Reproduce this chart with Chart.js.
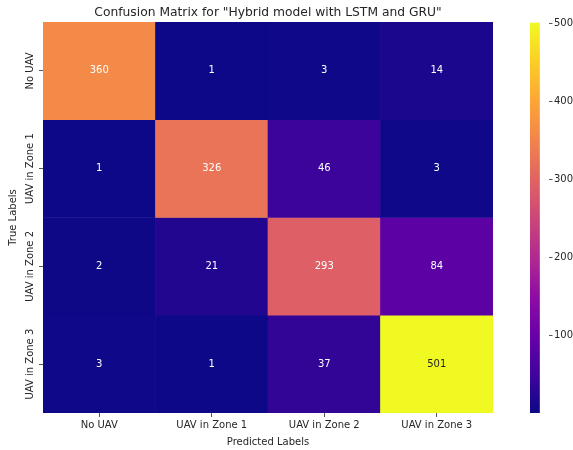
<!DOCTYPE html>
<html><head><meta charset="utf-8">
<script src="https://cdn.jsdelivr.net/npm/chart.js@4.4.0/dist/chart.umd.min.js"></script>
<style>
html,body{margin:0;padding:0;background:#fff;overflow:hidden}
#wrap{position:relative;width:573px;height:450px}
</style></head><body>
<div id="wrap">
<canvas id="main" width="573" height="450" style="position:absolute;left:0;top:0"></canvas>
<canvas id="cbar" width="73" height="450" style="position:absolute;left:500px;top:0"></canvas>
</div>
<script>
// ---- data ----
const predictedLabels = ["No UAV", "UAV in Zone 1", "UAV in Zone 2", "UAV in Zone 3"];
const trueLabels = ["No UAV", "UAV in Zone 1", "UAV in Zone 2", "UAV in Zone 3"];
const rowNoUAV = [360, 1, 3, 14];
const rowZone1 = [1, 326, 46, 3];
const rowZone2 = [2, 21, 293, 84];
const rowZone3 = [3, 1, 37, 501];
const colorbarTicks = [100, 200, 300, 400, 500];
const colorMin = 1, colorMax = 501;
const chartTitle = 'Confusion Matrix for "Hybrid model with LSTM and GRU"';

// ---- style ----
const FONT = '"DejaVu Sans", sans-serif';
const TXT = '#262626';
const PLASMA = [[13,8,135],[65,4,157],[106,0,168],[143,13,164],[177,42,144],[204,71,120],[225,100,98],[242,132,75],[252,166,54],[252,206,37],[240,249,33]];
function plasmaRGB(t){
  t = Math.max(0, Math.min(1, t));
  const p = t * 10, i = Math.min(9, Math.floor(p)), f = p - i;
  const a = PLASMA[i], b = PLASMA[i+1];
  return a.map((v,k)=>Math.round(v + (b[k]-v)*f));
}
function plasma(t){ const c = plasmaRGB(t); return `rgb(${c[0]},${c[1]},${c[2]})`; }
function lum(c){
  const l = c.map(v=>{v/=255; return v<=0.03928? v/12.92 : Math.pow((v+0.055)/1.055,2.4);});
  return 0.2126*l[0]+0.7152*l[1]+0.0722*l[2];
}
const norm = v => (v - colorMin) / (colorMax - colorMin);

const matrix = [rowNoUAV, rowZone1, rowZone2, rowZone3];
const datasets = matrix.map((row, i) => ({
  label: trueLabels[i],
  data: row.map(() => [i, i + 1]),
  values: row,
  backgroundColor: row.map(v => plasma(norm(v))),
  borderWidth: 0,
  barPercentage: 1,
  categoryPercentage: 1,
  grouped: false
}));

const annotate = {
  id: 'annotate',
  afterDatasetsDraw(chart){
    const ctx = chart.ctx, xs = chart.scales.x, ys = chart.scales.y;
    ctx.save();
    ctx.font = '10px ' + FONT;
    ctx.textAlign = 'center';
    ctx.textBaseline = 'middle';
    chart.data.datasets.forEach((ds, i) => {
      ds.values.forEach((v, j) => {
        const c = plasmaRGB(norm(v));
        ctx.fillStyle = lum(c) > 0.408 ? TXT : '#ffffff';
        ctx.fillText(String(v), xs.getPixelForValue(j), ys.getPixelForValue(i + 0.5));
      });
    });
    ctx.restore();
  },
  afterDraw(chart){
    const ctx = chart.ctx, ys = chart.scales.y;
    ctx.save();
    ctx.font = '10px ' + FONT;
    ctx.fillStyle = TXT;
    ctx.textAlign = 'center';
    ctx.textBaseline = 'middle';
    const x = ys.right - 4 - 2 - 7;
    ys.ticks.forEach((t, i) => {
      const y = ys.getPixelForValue(t.value);
      ctx.save();
      ctx.translate(x, y);
      ctx.rotate(-Math.PI / 2);
      ctx.fillText(trueLabels[i], 0, 0);
      ctx.restore();
    });
    ctx.restore();
  }
};

new Chart(document.getElementById('main'), {
  type: 'bar',
  data: { labels: predictedLabels, datasets },
  plugins: [annotate],
  options: {
    responsive: false,
    animation: false,
    layout: { padding: { left: 0, right: 80, top: 0, bottom: 0 } },
    plugins: {
      legend: { display: false },
      tooltip: { enabled: false },
      title: {
        display: true, text: chartTitle, color: TXT, fullSize: false,
        font: { family: FONT, size: 12.3, weight: 'normal', lineHeight: 1.2 },
        padding: { top: 5, bottom: 2.24 }
      }
    },
    scales: {
      x: {
        type: 'category',
        offset: true,
        grid: { offset: false, drawOnChartArea: false, drawTicks: true, tickLength: 4, color: '#555' },
        border: { display: false },
        ticks: { color: TXT, font: { family: FONT, size: 10 }, padding: 2, minRotation: 0, maxRotation: 0 },
        title: { display: true, text: 'Predicted Labels', color: TXT, font: { family: FONT, size: 10 }, padding: { top: 2, bottom: 2 } },
        afterFit: s => { s.height = 37; }
      },
      y: {
        type: 'linear',
        min: 0, max: 4, reverse: true,
        afterBuildTicks: s => { s.ticks = trueLabels.map((_, i) => ({ value: i + 0.5 })); },
        ticks: { display: false },
        grid: { drawOnChartArea: false, drawTicks: true, tickLength: 4, color: '#555' },
        border: { display: false },
        title: { display: true, text: 'True Labels', color: TXT, font: { family: FONT, size: 10 }, padding: { top: 7, bottom: 0 } },
        afterFit: s => { s.width = 43; }
      }
    }
  }
});

new Chart(document.getElementById('cbar'), {
  type: 'bar',
  data: {
    labels: [''],
    datasets: [{
      data: [[colorMin, colorMax]],
      backgroundColor: c => {
        const a = c.chart.chartArea;
        if (!a) return plasma(0);
        const g = c.chart.ctx.createLinearGradient(0, a.bottom, 0, a.top);
        for (let k = 0; k <= 10; k++) g.addColorStop(k / 10, plasma(k / 10));
        return g;
      },
      borderWidth: 0, barPercentage: 1, categoryPercentage: 1
    }]
  },
  options: {
    responsive: false,
    animation: false,
    layout: { padding: { left: 30, top: 22.5, bottom: 37, right: 0 } },
    plugins: { legend: { display: false }, tooltip: { enabled: false } },
    scales: {
      x: { display: false, offset: false },
      y: {
        position: 'right', min: colorMin, max: colorMax,
        afterBuildTicks: s => { s.ticks = colorbarTicks.map(v => ({ value: v })); },
        ticks: { color: TXT, font: { family: FONT, size: 10 }, padding: 1.5 },
        grid: { drawOnChartArea: false, drawTicks: true, tickLength: 3.5, color: '#555' },
        border: { display: false },
        afterFit: s => { s.width = 24; }
      }
    }
  }
});
</script>
</body></html>
